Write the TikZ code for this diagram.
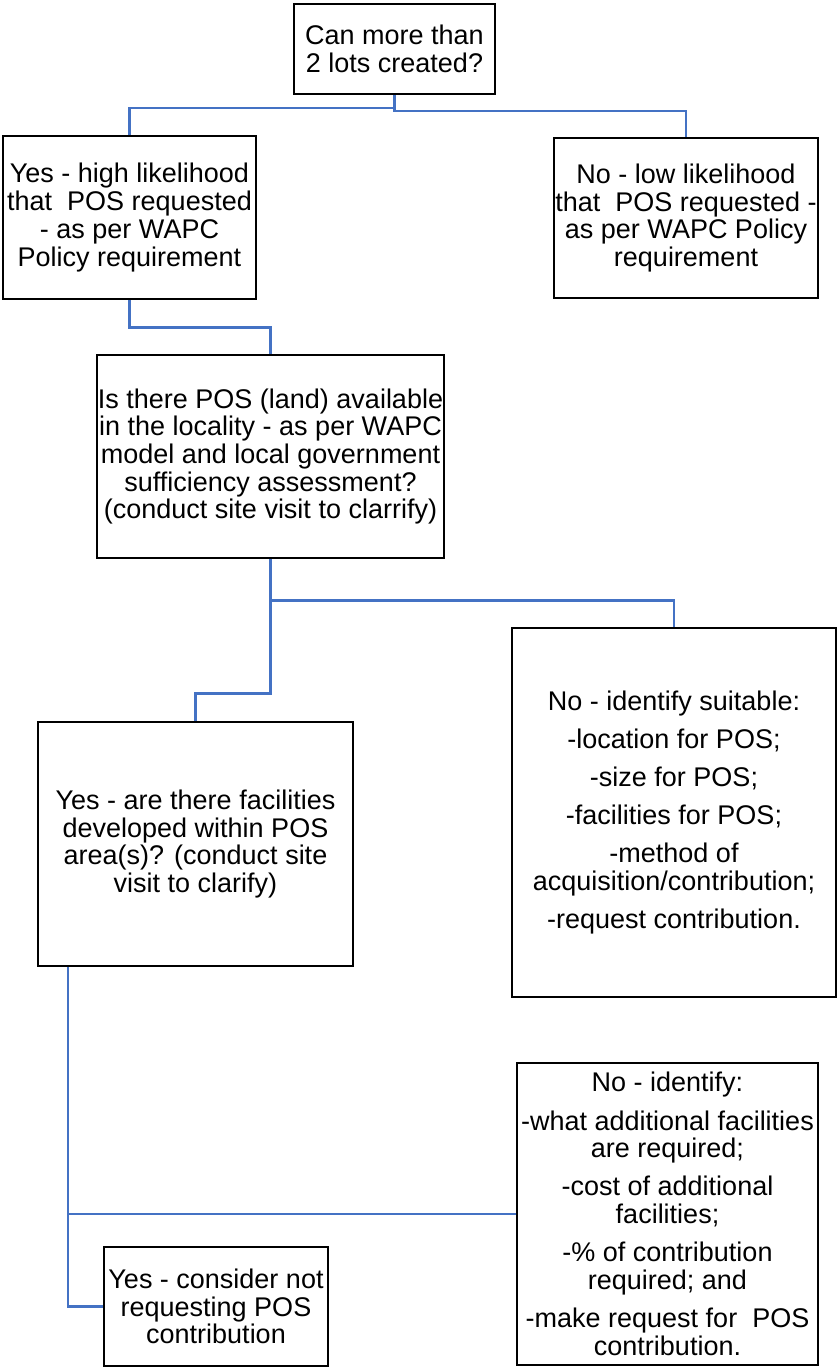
\documentclass[tikz,border=0pt]{standalone}
\usepackage{fontspec}
\setmainfont{Liberation Sans}
\usepackage{xcolor}
\usepackage{tikz}
\usetikzlibrary{positioning,calc}
\definecolor{link}{HTML}{4472C4}
\tikzset{
  box/.style  = {rectangle, draw=black, line width=2.6pt, fill=white, align=center,
                 inner sep=0pt, font=\fontsize{27}{27.7}\selectfont},
  conn/.style = {draw=link, line width=2.4pt},
}
\newcommand{\gap}{\\[10.5pt]}

\begin{document}
\begin{tikzpicture}[x=1pt, y=-1pt]
  \useasboundingbox (0,0) rectangle (837,1367);
  \node[box, minimum width=201, minimum height=90] (lots) at (394.5,49)
    {Can more than\\2 lots created?};
  \node[box, minimum width=253, minimum height=163] (yeshigh) at (129.5,217.5)
    {Yes - high likelihood\\that\ \ POS requested\\- as per WAPC\\Policy requirement};
  \node[box, minimum width=264, minimum height=160] (nolow) at (686,218)
    {No - low likelihood\\that\ \ POS requested -\\as per WAPC Policy\\requirement};
  \node[box, minimum width=347, minimum height=203] (land) at (270.5,456.5)
    {Is there POS (land) available\\in the locality - as per WAPC\\model and local government\\sufficiency assessment?\\(conduct site visit to clarrify)};
  \node[box, minimum width=315, minimum height=244] (facil) at (195.5,844)
    {Yes - are there facilities\\developed within POS\\area(s)? (conduct site\\visit to clarify)};
  \node[box, minimum width=324, minimum height=369] (noland) at (674,812.5)
    {No - identify suitable:\gap -location for POS;\gap -size for POS;\gap
     -facilities for POS;\gap -method of\\acquisition/contribution;\gap -request contribution.};
  \node[box, minimum width=301, minimum height=302] (nofacil) at (667.5,1214)
    {No - identify:\gap -what additional facilities\\are required;\gap -cost of additional\\facilities;\gap
     -\% of contribution\\required; and\gap -make request for\ \ POS\\contribution.};
  \node[box, minimum width=224, minimum height=119] (norequest) at (216,1306.5)
    {Yes - consider not\\requesting POS\\contribution};

  % elbow connectors
  \draw[conn] (lots.south) -- ++(0,13) -| (yeshigh.north);
  \draw[conn] (lots.south) -- ++(0,16) -| (nolow.north);
  \draw[conn] (yeshigh.south) -- ++(0,27) -| (land.north);
  \draw[conn] (land.south) -- ++(0,41) -| (noland.north);
  \draw[conn] (land.south) -- ++(0,134) -| (facil.north);
  \coordinate (facilout) at ($(facil.south west)+(31,0)$);
  \draw[conn] (facilout) |- (nofacil.west);
  \draw[conn] (facilout) |- (norequest.west);
\end{tikzpicture}
\end{document}
